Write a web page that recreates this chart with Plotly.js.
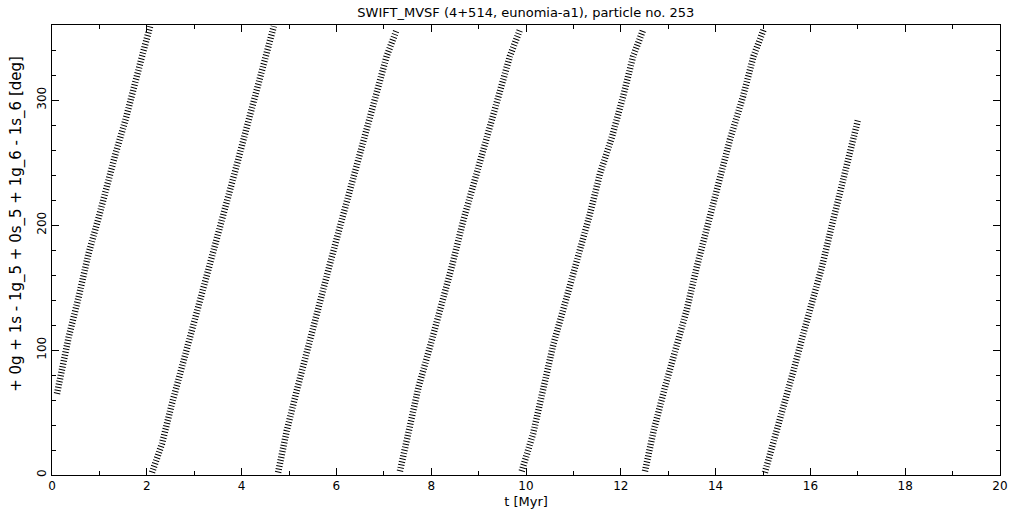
<!DOCTYPE html>
<html>
<head>
<meta charset="utf-8">
<script src="https://cdn.plot.ly/plotly-3.0.1.min.js"></script>
<style>
  html, body { margin: 0; padding: 0; background: #fff; }
  #chart { width: 1021px; height: 511px; }
</style>
</head>
<body>
<div id="chart"></div>
<script>
// Values: band centre lines, t [Myr] vs resonant angle [deg]
const band1_t   = [0.105, 0.21, 0.35, 0.56, 0.77, 0.985, 1.16, 1.34, 1.55, 1.72, 1.90, 2.07];
const band1_deg = [65, 86, 110, 142, 177, 206, 233, 257, 284, 311, 335, 359];
const band2_t   = [2.11, 2.32, 2.53, 2.78, 3.02, 3.30, 3.59, 3.87, 4.15, 4.39, 4.64, 4.68];
const band2_deg = [2, 25, 57, 91, 126, 166, 206, 244, 284, 316, 353, 359];
const band3_t   = [4.77, 4.95, 5.16, 5.37, 5.58, 5.83, 6.07, 6.36, 6.60, 6.85, 7.06, 7.27];
const band3_deg = [2, 35, 67, 99, 129, 164, 198, 238, 270, 305, 335, 356];
const band4_t   = [7.34, 7.52, 7.73, 7.97, 8.19, 8.43, 8.68, 8.92, 9.17, 9.45, 9.66, 9.87];
const band4_deg = [3, 35, 70, 102, 132, 166, 204, 236, 268, 305, 335, 356];
const band5_t   = [9.91, 10.15, 10.37, 10.58, 10.82, 11.07, 11.35, 11.56, 11.81, 12.05, 12.26, 12.47];
const band5_deg = [3, 33, 70, 105, 137, 169, 209, 241, 270, 303, 335, 356];
const band6_t   = [12.51, 12.69, 12.93, 13.18, 13.39, 13.60, 13.81, 14.06, 14.30, 14.58, 14.80, 15.01];
const band6_deg = [3, 35, 70, 102, 132, 166, 198, 236, 268, 303, 335, 356];
const band7_t   = [15.04, 15.22, 15.43, 15.64, 15.85, 16.03, 16.24, 16.41, 16.62, 16.80, 16.97, 17.01];
const band7_deg = [2, 25, 54, 83, 113, 137, 166, 193, 225, 252, 276, 285];

const xTickVals = [0, 2, 4, 6, 8, 10, 12, 14, 16, 18, 20];
const yTickVals = [0, 100, 200, 300];

const titleText = "SWIFT_MVSF (4+514, eunomia-a1), particle no. 253";
const xTitleText = "t [Myr]";
const yTitleText = "+ 0g + 1s - 1g_5 + 0s_5 + 1g_6 - 1s_6 [deg]";

const bands = [
  [band1_t, band1_deg], [band2_t, band2_deg], [band3_t, band3_deg],
  [band4_t, band4_deg], [band5_t, band5_deg], [band6_t, band6_deg],
  [band7_t, band7_deg]
];

const FONT = "DejaVu Sans, Liberation Sans, sans-serif";

const traces = bands.map(b => ({
  type: "scatter", mode: "lines", x: b[0], y: b[1],
  line: { color: "#000", width: 6.5, dash: "1px,2px" },
  hoverinfo: "skip", showlegend: false
}));

const axisCommon = {
  showline: true,
  linecolor: "#000",
  linewidth: 1,
  mirror: "ticks",
  ticks: "inside",
  ticklen: 7,
  tickcolor: "#000",
  tickwidth: 1,
  showgrid: false,
  zeroline: false,
  tickfont: { family: FONT, size: 12, color: "#000" },
  tickmode: "array"
};

const layout = {
  width: 1021,
  height: 511,
  margin: { l: 52, r: 21, t: 25, b: 36 },
  paper_bgcolor: "#fff",
  plot_bgcolor: "#fff",
  title: {
    text: titleText,
    font: { family: FONT, size: 13, color: "#000" },
    x: 0.515, xanchor: "center", y: 0.985, yanchor: "top"
  },
  xaxis: Object.assign({}, axisCommon, {
    range: [0, 20],
    tickvals: xTickVals,
    ticktext: xTickVals.map(String),
    minor: { ticks: "inside", ticklen: 4, dtick: 1, tick0: 0, tickcolor: "#000", showgrid: false },
    title: { text: xTitleText, font: { family: FONT, size: 13, color: "#000" }, standoff: 4 }
  }),
  yaxis: Object.assign({}, axisCommon, {
    range: [0, 360],
    tickvals: yTickVals,
    ticktext: yTickVals.map(String),
    tickangle: -90,
    minor: { ticks: "inside", ticklen: 4, dtick: 20, tick0: 0, tickcolor: "#000", showgrid: false },
    title: { text: "" }
  }),
  annotations: [{
    text: yTitleText,
    xref: "paper", yref: "paper",
    x: -0.037, y: 0.558,
    xanchor: "center", yanchor: "middle",
    textangle: -90,
    showarrow: false,
    font: { family: FONT, size: 15, color: "#000" }
  }]
};

Plotly.newPlot("chart", traces, layout, { staticPlot: true, displayModeBar: false });
</script>
</body>
</html>
